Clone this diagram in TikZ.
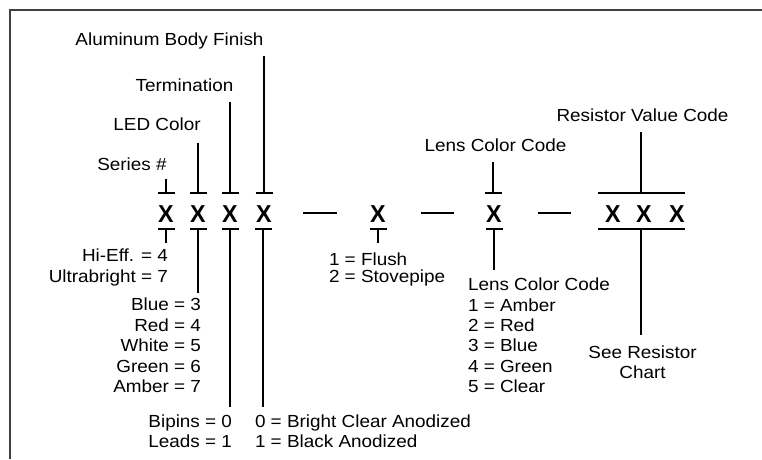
\documentclass[tikz,border=0pt]{standalone}
\usepackage{fontspec}
\setmainfont{Liberation Sans}[FakeStretch=1.08]
\newfontfamily\xfont{Liberation Sans}[FakeStretch=0.95]
\begin{document}
\begin{tikzpicture}[x=1pt,y=-1pt,
  lbl/.style={font=\fontsize{17.5}{20}\selectfont, inner sep=0pt, outer sep=0pt},
  xch/.style={font=\xfont\fontsize{24.5}{24.5}\selectfont\bfseries, inner sep=0pt},
  wire/.style={line width=2.3pt, line cap=butt},
  dashbar/.style={line width=2.8pt},
  frameline/.style={line width=2pt, draw=black!75}]
\useasboundingbox (0,0) rectangle (762,459);
\draw[frameline] (10,459) -- (10,10) -- (762,10);

% character positions
\foreach \n/\x in {1/166,2/198,3/230,4/264,5/378,6/494,7/613,8/644,9/677}{
  \node[xch] (x\n) at (\x,214) {X};
}
% tick points
\foreach \n/\x in {1/166,2/198,3/230,4/264,6/493}{
  \coordinate (t\n) at (\x,193);
  \draw[wire] ([xshift=-8.5pt]t\n) -- ([xshift=8.5pt]t\n);
}
\foreach \n/\x in {1/166,2/198,3/230,4/263,5/378,6/494}{
  \coordinate (b\n) at (\x,229);
  \draw[wire] ([xshift=-8.5pt]b\n) -- ([xshift=8.5pt]b\n);
}
\coordinate (tr) at (641,193);
\coordinate (br) at (641,229);
\draw[wire] (598,193) -- (685,193);
\draw[wire] (598,229) -- (685,229);

% dashes
\coordinate (d1a) at (303,213); \coordinate (d1b) at (337,213);
\coordinate (d2a) at (421,213); \coordinate (d2b) at (454,213);
\coordinate (d3a) at (538,213); \coordinate (d3b) at (571,213);
\draw[dashbar] (d1a) -- (d1b);
\draw[dashbar] (d2a) -- (d2b);
\draw[dashbar] (d3a) -- (d3b);

% top labels
\node[lbl, anchor=base] (alum) at (169.5,45) {Aluminum Body Finish};
\node[lbl, anchor=base] (term) at (184.5,91.7) {Termination};
\node[lbl, anchor=base] (ledc) at (157,130.7) {LED Color};
\node[lbl, anchor=base] (ser) at (132,170) {Series \#};
\node[lbl, anchor=base] (lcc) at (495.5,151.7) {Lens Color Code};
\node[lbl, anchor=base] (rvc) at (642.5,121.7) {Resistor Value Code};

\draw[wire, shorten <=11pt] (alum.base -| t4) -- (t4);
\draw[wire, shorten <=10.3pt] (term.base -| t3) -- (t3);
\draw[wire, shorten <=12pt] (ledc.base -| t2) -- (t2);
\draw[wire, shorten <=9pt] (ser.base -| t1) -- (t1);
\draw[wire, shorten <=10.3pt] (lcc.base -| t6) -- (t6);
\draw[wire, shorten <=10.3pt] (rvc.base -| tr) -- (tr);

% bottom labels
\node[lbl, anchor=base east] (hi) at (168,261.7) {Hi-Eff. = 4};
\node[lbl, anchor=base east] (ub) at (168,282.7) {Ultrabright = 7};

\node[lbl, anchor=base east] (c1) at (201,310.7) {Blue = 3};
\node[lbl, anchor=base east] (c2) at (201,331.2) {Red = 4};
\node[lbl, anchor=base east] (c3) at (201,351.7) {White = 5};
\node[lbl, anchor=base east] (c4) at (201,372.2) {Green = 6};
\node[lbl, anchor=base east] (c5) at (201,392.5) {Amber = 7};

\node[lbl, anchor=base east] (bip) at (232,427.3) {Bipins = 0};
\node[lbl, anchor=base east] (lea) at (232,447.3) {Leads = 1};

\node[lbl, anchor=base west] (f0) at (255,427.3) {0 = Bright Clear Anodized};
\node[lbl, anchor=base west] (f1) at (255,447.3) {1 = Black Anodized};

\node[lbl, anchor=base west] (fl) at (329,265) {1 = Flush};
\node[lbl, anchor=base west] (st) at (329,282.7) {2 = Stovepipe};

\node[lbl, anchor=base west] (lh) at (468,290.5) {Lens Color Code};
\node[lbl, anchor=base west] (l1) at (468,311.2) {1 = Amber};
\node[lbl, anchor=base west] (l2) at (468,331.5) {2 = Red};
\node[lbl, anchor=base west] (l3) at (468,351.7) {3 = Blue};
\node[lbl, anchor=base west] (l4) at (468,372) {4 = Green};
\node[lbl, anchor=base west] (l5) at (468,392.5) {5 = Clear};

\node[lbl, anchor=base] (sr) at (642.5,358.3) {See Resistor};
\node[lbl, anchor=base] (ch) at (642.5,378.3) {Chart};

\draw[wire, shorten >=18.7pt] (b1) -- (hi.base -| b1);
\draw[wire, shorten >=17.7pt] (b2) -- (c1.base -| b2);
\draw[wire, shorten >=20.3pt] (b3) -- (bip.base -| b3);
\draw[wire, shorten >=20.3pt] (b4) -- (f0.base -| b4);
\draw[wire, shorten >=22pt] (b5) -- (fl.base -| b5);
\draw[wire, shorten >=20.5pt] (b6) -- (lh.base -| b6);
\draw[wire, shorten >=23.3pt] (br) -- (sr.base -| br);
\end{tikzpicture}
\end{document}
